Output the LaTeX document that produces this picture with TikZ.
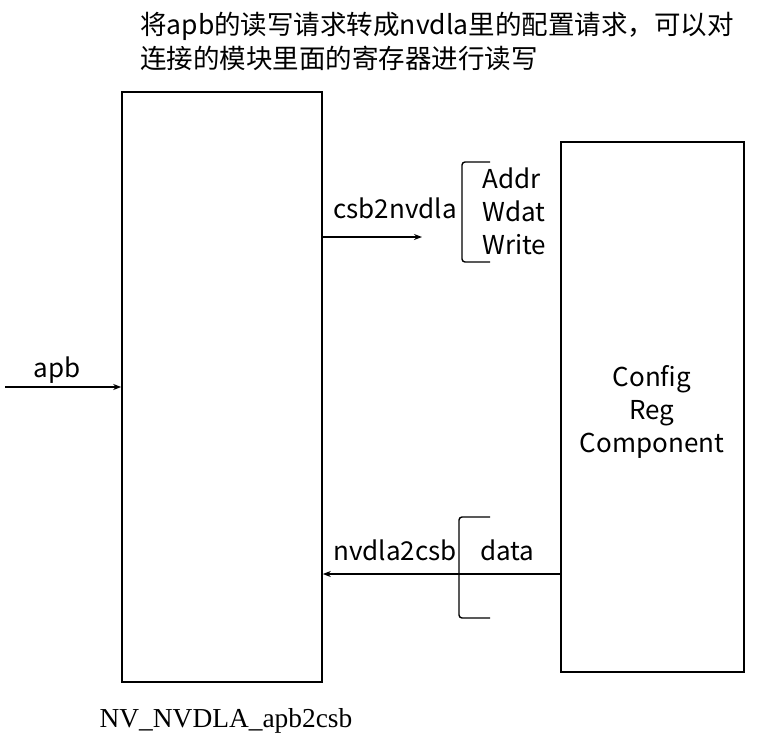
\documentclass[tikz,border=0pt]{standalone}
\usepackage{fontspec}
\usetikzlibrary{arrows.meta}
\newfontfamily\cjk{Noto Sans CJK SC}
\newfontfamily\tms{Liberation Serif}
\begin{document}
\begin{tikzpicture}[x=1pt,y=-1pt,
  box/.style={draw,line width=1.6pt},
  lab/.style={font=\cjk\fontsize{26}{33}\selectfont,inner sep=0pt},
  arr/.style={line width=1.4pt,-{Stealth[length=8pt,width=6pt]}},
  brk/.style={line width=1.4pt,rounded corners=3pt}]
\useasboundingbox (0,0) rectangle (782,747);
\node[box,minimum width=200pt,minimum height=590pt,inner sep=0pt] (blk) at (222,387) {};
\node[box,minimum width=183pt,minimum height=530pt,inner sep=0pt] (reg) at (652.5,407) {};
\node[lab,align=center,anchor=base] (reglab) at (652,452) {Config\\Reg\\Component};
\node[lab,align=left,anchor=base west,font=\cjk\fontsize{26.5}{34}\selectfont] (title) at (140,68) {将apb的读写请求转成nvdla里的配置请求，可以对\\连接的模块里面的寄存器进行读写};
\node[font=\tms\fontsize{27.4}{30}\selectfont,anchor=base,inner sep=0pt] (name) at (226,727) {NV\_NVDLA\_apb2csb};
\coordinate (apbin) at (5,387);
\draw[arr] (apbin) -- (blk.west |- apbin);
\node[lab,anchor=base] (apb) at (57,377) {apb};
\coordinate (csbend) at (422,237);
\draw[arr] (blk.east |- csbend) -- (csbend);
\node[lab,anchor=base] (csb) at (395,218) {csb2nvdla};
\coordinate (ylow) at (0,574);
\draw[arr] (reg.west |- ylow) -- (blk.east |- ylow);
\node[lab,anchor=base] (nv) at (395,560) {nvdla2csb};
\draw[brk] (490,162) -- (462,162) -- (462,262) -- (490,262);
\node[lab,align=left,anchor=base west] (sig) at (482,254) {Addr\\Wdat\\Write};
\draw[brk] (490,517) -- (459,517) -- (459,618) -- (490,618);
\node[lab,anchor=base west] (data) at (480,560) {data};
\end{tikzpicture}
\end{document}
